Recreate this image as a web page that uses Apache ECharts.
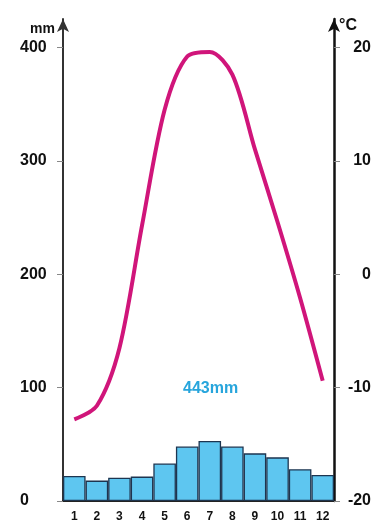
<!DOCTYPE html>
<html><head><meta charset="utf-8">
<script src="https://cdn.jsdelivr.net/npm/echarts@6/dist/echarts.min.js"></script>
<style>html,body{margin:0;padding:0;background:#fff}#c{width:375px;height:524px}</style>
</head><body><div id="c"></div>
<script>
const months = ['1','2','3','4','5','6','7','8','9','10','11','12'];
const precipitation = [22, 18, 20.5, 21.5, 33, 48, 53, 48, 42, 38.5, 28, 23];
const temperature = [-12.8, -11.6, -6.5, 4.3, 14.5, 19.2, 19.6, 17.6, 11, 4.6, -2.1, -9.4];
const mmTicks = [0, 100, 200, 300, 400];
const tempTicks = [-20, -10, 0, 10, 20];
const totalLabel = '443mm';

const font = "'Liberation Sans',Arial,sans-serif";
const chart = echarts.init(document.getElementById('c'), null, {renderer:'canvas'});
chart.setOption({
  animation:false,
  backgroundColor:'#fff',
  grid:{left:63, right:41, top:19, bottom:23, containLabel:false},
  xAxis:{
    type:'category', data:months, boundaryGap:true,
    axisLine:{show:true, lineStyle:{color:'#222', width:2}},
    axisTick:{show:false},
    axisLabel:{color:'#111', fontFamily:font, fontWeight:'bold', fontSize:12, margin:10}
  },
  yAxis:[{
    type:'value', min:0, max:425, interval:100,
    splitLine:{show:false},
    name:'mm', nameLocation:'end', nameGap:-17,
    nameTextStyle:{color:'#111', fontFamily:font, fontWeight:'bold', fontSize:14, align:'right', padding:[0,8,0,0]},
    axisLine:{show:true, lineStyle:{color:'#333', width:2}, symbol:['none','arrow'], symbolSize:[9,13]},
    axisTick:{show:true, inside:false, length:6, lineStyle:{color:'#888', width:1}, customValues:mmTicks},
    axisLabel:{color:'#111', fontFamily:font, fontWeight:'bold', fontSize:16, align:'left', margin:43, customValues:mmTicks}
  },{
    type:'value', min:-20, max:22.5, interval:10, position:'right',
    splitLine:{show:false},
    name:'°C', nameLocation:'end', nameGap:-15,
    nameTextStyle:{color:'#111', fontFamily:font, fontWeight:'bold', fontSize:16, align:'left', padding:[0,0,0,5]},
    axisLine:{show:true, lineStyle:{color:'#111', width:2.5}, symbol:['none','arrow'], symbolSize:[9,13]},
    axisTick:{show:true, length:6, lineStyle:{color:'#888', width:1}, customValues:tempTicks},
    axisLabel:{color:'#111', fontFamily:font, fontWeight:'bold', fontSize:16, align:'right', margin:37, customValues:tempTicks}
  }],
  series:[{
    type:'bar', data:precipitation, yAxisIndex:0, barCategoryGap:'0%',
    itemStyle:{color:'#5ec6f0', borderColor:'#1d3550', borderWidth:1.3}
  },{
    type:'line', data:temperature, yAxisIndex:1, smooth:0.3, showSymbol:false,
    lineStyle:{color:'#d0157a', width:4}
  }],
  graphic:[{
    type:'text', left:183, top:381,
    style:{text:totalLabel, fill:'#27a5dc', fontSize:16, fontFamily:font, fontWeight:'bold'}
  }]
});
</script></body></html>
